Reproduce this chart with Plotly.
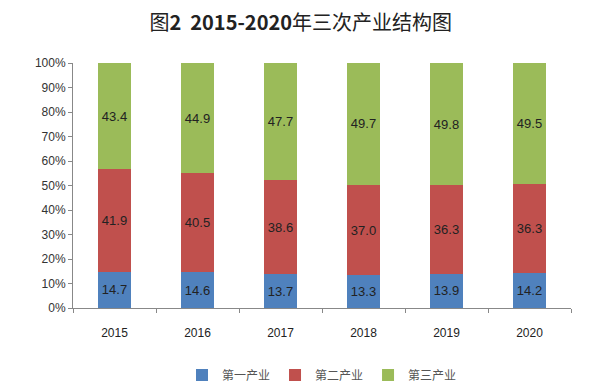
import plotly.graph_objects as go

years = ["2015", "2016", "2017", "2018", "2019", "2020"]
primary = [14.7, 14.6, 13.7, 13.3, 13.9, 14.2]
secondary = [41.9, 40.5, 38.6, 37.0, 36.3, 36.3]
tertiary = [43.4, 44.9, 47.7, 49.7, 49.8, 49.5]
names = ["第一产业", "第二产业", "第三产业"]
colors = ["#4F81BD", "#C0504D", "#9BBB59"]

fig = go.Figure()
for name, vals, c in zip(names, [primary, secondary, tertiary], colors):
    fig.add_trace(go.Bar(
        x=years, y=vals, name=name, marker=dict(color=c, line=dict(width=0)),
        text=[f"{v:.1f}" for v in vals], textposition="inside", insidetextanchor="middle",
        textfont=dict(size=13, color="#222222", family="Liberation Sans, Arial"),
        hoverinfo="skip",
    ))

fig.update_layout(
    barmode="stack", barnorm="percent", bargap=0.6,
    width=592, height=389,
    margin=dict(l=73, r=21, t=63, b=81, autoexpand=False),
    paper_bgcolor="white", plot_bgcolor="white",
    font=dict(family="Noto Sans CJK SC", color="#222222"),
    title=dict(text="图<b>2  2015-2020</b>年三次产业结构图", x=0.508, xanchor="center", y=0.94, yanchor="middle",
               font=dict(size=20, family="Noto Sans CJK SC", color="#222222")),
    legend=dict(orientation="h", x=0.5, xanchor="center", y=-0.273, yanchor="middle",
                font=dict(size=12, family="Noto Sans CJK SC", color="#555555"),
                itemwidth=30, traceorder="normal"),
    showlegend=True,
)
fig.update_xaxes(type="category", showline=True, linecolor="#888888", linewidth=1,
                 ticks="outside", tickson="boundaries", ticklen=4, tickcolor="#888888",
                 ticklabelstandoff=14, automargin=False,
                 tickfont=dict(size=12, family="Liberation Sans, Arial", color="#222222"))
fig.update_yaxes(range=[0, 100], dtick=10, ticksuffix="%", showgrid=False, zeroline=False,
                 showline=True, linecolor="#888888", linewidth=1, automargin=False,
                 ticks="outside", ticklen=4, tickcolor="#888888",
                 tickfont=dict(size=12, family="Liberation Sans, Arial", color="#333333"))

fig.write_html("out.html", config={"displayModeBar": False},
               post_script="document.body.style.margin='0px';document.body.style.overflow='hidden';")
